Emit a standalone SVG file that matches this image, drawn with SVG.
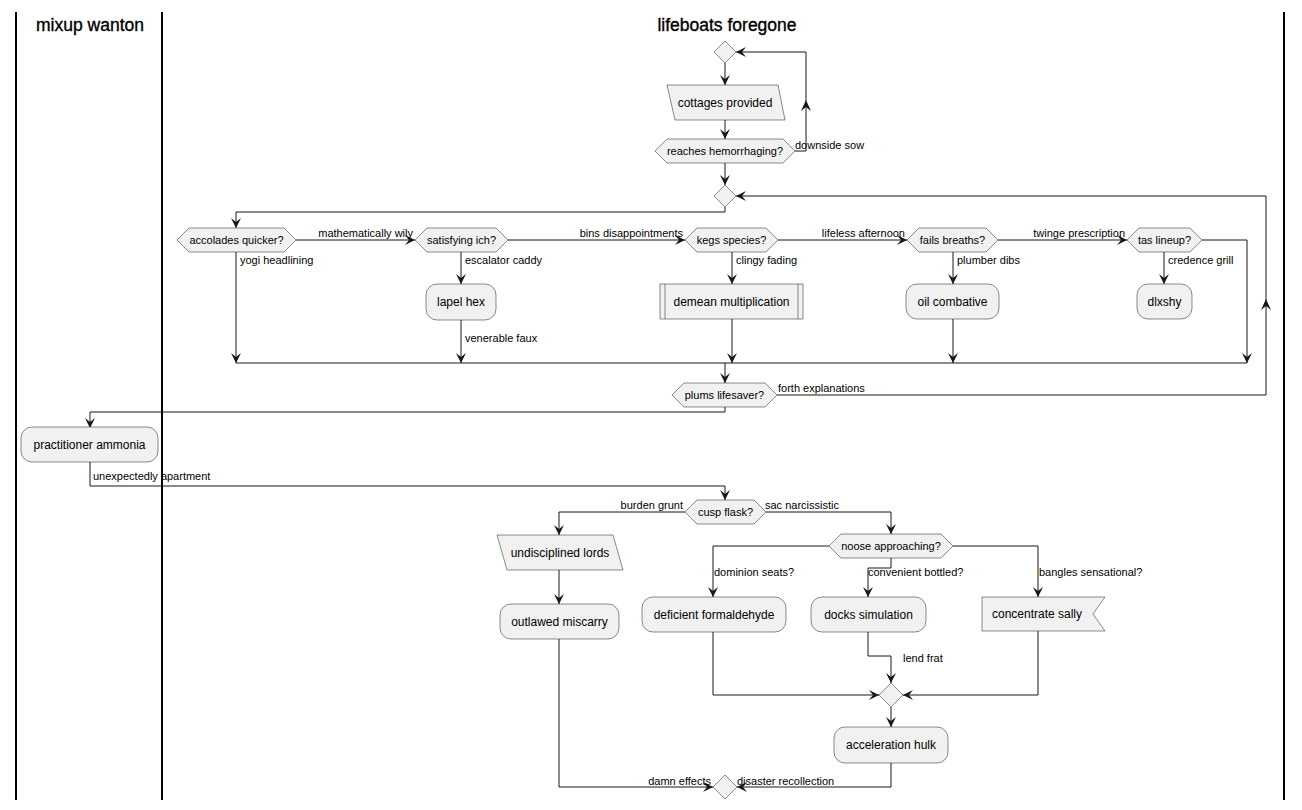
<svg xmlns="http://www.w3.org/2000/svg" width="1302" height="810" viewBox="0 0 1302 810">
<defs>
<style>
.n{fill:#F1F1F1;stroke:#181818;stroke-width:0.5}
.c{fill:none;stroke:#181818;stroke-width:1}
.lane{stroke:#000;stroke-width:2}
.t{font-family:"Liberation Sans",Arial,sans-serif;font-size:12px;fill:#000;text-anchor:middle}
.h{font-family:"Liberation Sans",Arial,sans-serif;font-size:11px;fill:#000;text-anchor:middle}
.l{font-family:"Liberation Sans",Arial,sans-serif;font-size:11px;fill:#000;text-anchor:start}
.le{font-family:"Liberation Sans",Arial,sans-serif;font-size:11px;fill:#000;text-anchor:end}
.title{font-family:"Liberation Sans",Arial,sans-serif;font-size:17.5px;fill:#000;text-anchor:middle;stroke:#000;stroke-width:0.35}
.ah{fill:#181818}
</style>
<marker id="a" viewBox="0 0 10 10" refX="10" refY="5" markerWidth="10" markerHeight="10" orient="auto" markerUnits="userSpaceOnUse"><path d="M0,0 L10,5 L0,10 L4,5 Z" fill="#181818"/></marker>
</defs>
<rect width="1302" height="810" fill="#fff"/>
<g id="lanes">
<line class="lane" x1="16" y1="12" x2="16" y2="800"/>
<line class="lane" x1="162" y1="12" x2="162" y2="800"/>
<line class="lane" x1="1284" y1="12" x2="1284" y2="800"/>
<text class="title" x="90" y="31">mixup wanton</text>
<text class="title" x="727" y="31">lifeboats foregone</text>
</g>
<g id="connectors">
<path class="c" marker-end="url(#a)" d="M725,63 L725,85"/>
<path class="c" marker-end="url(#a)" d="M725,120 L725,139"/>
<path class="c" marker-end="url(#a)" d="M795,151 L806,151 L806,52 L736,52"/>
<path class="ah" d="M806,100 L811,111 L806,107 L801,111 Z"/>
<text class="l" x="795" y="149">downside sow</text>
<path class="c" marker-end="url(#a)" d="M725,163 L725,185"/>
<path class="c" marker-end="url(#a)" d="M725,207 L725,212 L236,212 L236,228"/>
<path class="c" marker-end="url(#a)" d="M296,240 L415,240"/>
<text class="le" x="413" y="237">mathematically wily</text>
<path class="c" marker-end="url(#a)" d="M236,252 L236,363"/>
<text class="l" x="240" y="264">yogi headlining</text>
<path class="c" marker-end="url(#a)" d="M461,252 L461,284"/>
<text class="l" x="465" y="264">escalator caddy</text>
<path class="c" marker-end="url(#a)" d="M461,320 L461,363"/>
<text class="l" x="465" y="342">venerable faux</text>
<path class="c" marker-end="url(#a)" d="M508,240 L685,240"/>
<text class="le" x="683" y="237">bins disappointments</text>
<path class="c" marker-end="url(#a)" d="M732,252 L732,284"/>
<text class="l" x="736" y="264">clingy fading</text>
<path class="c" marker-end="url(#a)" d="M732,319 L732,363"/>
<path class="c" marker-end="url(#a)" d="M778,240 L907,240"/>
<text class="le" x="905" y="237">lifeless afternoon</text>
<path class="c" marker-end="url(#a)" d="M953,252 L953,284"/>
<text class="l" x="957" y="264">plumber dibs</text>
<path class="c" marker-end="url(#a)" d="M953,319 L953,363"/>
<path class="c" marker-end="url(#a)" d="M998,240 L1127,240"/>
<text class="le" x="1125" y="237">twinge prescription</text>
<path class="c" marker-end="url(#a)" d="M1164,252 L1164,284"/>
<text class="l" x="1168" y="264">credence grill</text>
<path class="c" marker-end="url(#a)" d="M1202,240 L1247,240 L1247,363"/>
<path class="c" d="M236,363 L1247,363"/>
<path class="c" marker-end="url(#a)" d="M725,363 L725,383"/>
<path class="c" marker-end="url(#a)" d="M777,395 L1266,395 L1266,196 L736,196"/>
<path class="ah" d="M1266,299 L1271,310 L1266,306 L1261,310 Z"/>
<text class="l" x="778" y="392">forth explanations</text>
<path class="c" marker-end="url(#a)" d="M725,407 L725,412 L90,412 L90,428"/>
<path class="c" marker-end="url(#a)" d="M90,462 L90,486 L725,486 L725,500"/>
<text class="l" x="93" y="480">unexpectedly apartment</text>
<path class="c" marker-end="url(#a)" d="M685,512 L559,512 L559,535"/>
<text class="le" x="683" y="509">burden grunt</text>
<path class="c" marker-end="url(#a)" d="M559,570 L559,604"/>
<path class="c" marker-end="url(#a)" d="M559,639 L559,787 L713,787"/>
<text class="le" x="711" y="785">damn effects</text>
<path class="c" marker-end="url(#a)" d="M766,512 L891,512 L891,534"/>
<text class="l" x="765" y="509">sac narcissistic</text>
<path class="c" marker-end="url(#a)" d="M829,546 L713,546 L713,597"/>
<text class="l" x="714" y="576">dominion seats?</text>
<path class="c" marker-end="url(#a)" d="M891,558 L891,568 L868,568 L868,597"/>
<text class="l" x="868" y="576">convenient bottled?</text>
<path class="c" marker-end="url(#a)" d="M953,546 L1038,546 L1038,597"/>
<text class="l" x="1039" y="576">bangles sensational?</text>
<path class="c" marker-end="url(#a)" d="M713,632 L713,695 L879,695"/>
<path class="c" marker-end="url(#a)" d="M868,632 L868,656 L891,656 L891,683"/>
<text class="l" x="903" y="662">lend frat</text>
<path class="c" marker-end="url(#a)" d="M1038,631 L1038,695 L903,695"/>
<path class="c" marker-end="url(#a)" d="M891,707 L891,727"/>
<path class="c" marker-end="url(#a)" d="M891,763 L891,787 L737,787"/>
<text class="l" x="737" y="785">disaster recollection</text>
</g>
<g id="start-merge"><polygon class="n" points="725,41 736,52 725,63 714,52"/></g>
<g id="cottages-provided"><polygon class="n" points="667,85 778,85 785,120 675,120"/><text class="t" x="725" y="107">cottages provided</text></g>
<g id="reaches-hemorrhaging"><polygon class="n" points="655,151 667,139 783,139 795,151 783,163 667,163"/><text class="h" x="725" y="155">reaches hemorrhaging?</text></g>
<g id="loop-merge"><polygon class="n" points="725,185 736,196 725,207 714,196"/></g>
<g id="accolades-quicker"><polygon class="n" points="177,240 189,228 284,228 296,240 284,252 189,252"/><text class="h" x="236.5" y="244">accolades quicker?</text></g>
<g id="satisfying-ich"><polygon class="n" points="415,240 427,228 496,228 508,240 496,252 427,252"/><text class="h" x="461.5" y="244">satisfying ich?</text></g>
<g id="lapel-hex"><rect class="n" x="426" y="284" width="70" height="36" rx="11"/><text class="t" x="461" y="306">lapel hex</text></g>
<g id="kegs-species"><polygon class="n" points="685,240 697,228 766,228 778,240 766,252 697,252"/><text class="h" x="731.5" y="244">kegs species?</text></g>
<g id="demean-multiplication"><rect class="n" x="660" y="284" width="143" height="35"/><line class="n" x1="665" y1="284" x2="665" y2="319"/><line class="n" x1="798" y1="284" x2="798" y2="319"/><text class="t" x="731.5" y="306">demean multiplication</text></g>
<g id="fails-breaths"><polygon class="n" points="907,240 919,228 986,228 998,240 986,252 919,252"/><text class="h" x="952.5" y="244">fails breaths?</text></g>
<g id="oil-combative"><rect class="n" x="906" y="284" width="93" height="35" rx="11"/><text class="t" x="952.5" y="306">oil combative</text></g>
<g id="tas-lineup"><polygon class="n" points="1127,240 1139,228 1190,228 1202,240 1190,252 1139,252"/><text class="h" x="1164.5" y="244">tas lineup?</text></g>
<g id="dlxshy"><rect class="n" x="1137" y="284" width="55" height="35" rx="11"/><text class="t" x="1164.5" y="306">dlxshy</text></g>
<g id="plums-lifesaver"><polygon class="n" points="672,395 684,383 765,383 777,395 765,407 684,407"/><text class="h" x="724.5" y="399">plums lifesaver?</text></g>
<g id="practitioner-ammonia"><rect class="n" x="21" y="427" width="137" height="35" rx="11"/><text class="t" x="89.5" y="449">practitioner ammonia</text></g>
<g id="cusp-flask"><polygon class="n" points="685,512 697,500 754,500 766,512 754,524 697,524"/><text class="h" x="725.5" y="516">cusp flask?</text></g>
<g id="undisciplined-lords"><polygon class="n" points="497,535 613,535 623,570 507,570"/><text class="t" x="560" y="557">undisciplined lords</text></g>
<g id="outlawed-miscarry"><rect class="n" x="500" y="604" width="119" height="35" rx="11"/><text class="t" x="559.5" y="626">outlawed miscarry</text></g>
<g id="noose-approaching"><polygon class="n" points="829,546 841,534 941,534 953,546 941,558 841,558"/><text class="h" x="891" y="550">noose approaching?</text></g>
<g id="deficient-formaldehyde"><rect class="n" x="642" y="597" width="144" height="35" rx="11"/><text class="t" x="714" y="619">deficient formaldehyde</text></g>
<g id="docks-simulation"><rect class="n" x="811" y="597" width="115" height="35" rx="11"/><text class="t" x="868.5" y="619">docks simulation</text></g>
<g id="concentrate-sally"><polygon class="n" points="982,597 1105,597 1093,614 1105,631 982,631"/><text class="t" x="1037" y="618">concentrate sally</text></g>
<g id="branch-merge"><polygon class="n" points="891,683 903,695 891,707 879,695"/></g>
<g id="acceleration-hulk"><rect class="n" x="834" y="727" width="114" height="36" rx="11"/><text class="t" x="891" y="749">acceleration hulk</text></g>
<g id="end-merge"><polygon class="n" points="725,775 737,787 725,799 713,787"/></g>
</svg>
